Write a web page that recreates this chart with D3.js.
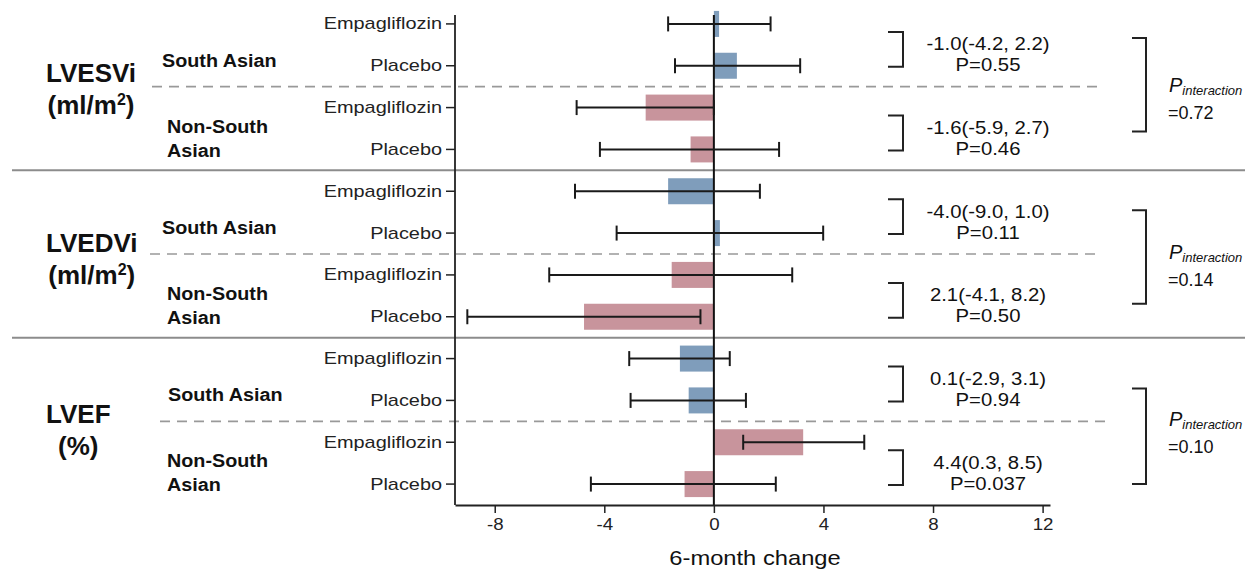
<!DOCTYPE html>
<html>
<head>
<meta charset="utf-8">
<script src="https://cdn.jsdelivr.net/npm/d3@7"></script>
<style>
  body { margin: 0; background: #fff; }
  svg { font-family: "Liberation Sans", Arial, sans-serif; display: block; }
</style>
</head>
<body>
<div id="chart"></div>
<script>
// rows go measure > group > arm, top to bottom
const measures = ["LVESVi", "LVEDVi", "LVEF"];
const units = ["(ml/m", "(ml/m", "(%)"];
const groups = ["South Asian", "Non-South Asian"];
const arms = ["Empagliflozin", "Placebo"];

const change = [0.19, 0.84, -2.49, -0.85, -1.67, 0.22, -1.54, -4.74, -1.24, -0.92, 3.26, -1.07];
const ciLow  = [-1.67, -1.42, -5.01, -4.16, -5.07, -3.55, -6.01, -9.0, -3.09, -3.04, 1.07, -4.49];
const ciHigh = [2.07, 3.15, 0.0, 2.38, 1.68, 3.99, 2.86, -0.49, 0.58, 1.17, 5.49, 2.26];

const effects = ["-1.0(-4.2, 2.2)", "-1.6(-5.9, 2.7)", "-4.0(-9.0, 1.0)", "2.1(-4.1, 8.2)", "0.1(-2.9, 3.1)", "4.4(0.3, 8.5)"];
const pValues = ["P=0.55", "P=0.46", "P=0.11", "P=0.50", "P=0.94", "P=0.037"];
const pInteraction = ["=0.72", "=0.14", "=0.10"];
const xTicks = [-8, -4, 0, 4, 8, 12];

const W = 1245, H = 569;
const blue = "#7f9dbb", pink = "#c8949c";

const svg = d3.select("#chart").append("svg")
    .attr("width", W)
    .attr("height", H);

const rows = d3.range(change.length);
const x = d3.scaleLinear().domain([-9.45, 12.27]).range([455, 1050]);
const y = d3.scaleBand().domain(rows).range([3, 505]);
const cy = r => y(r) + y.bandwidth() / 2;

// text helper: the source figure uses slightly wide type
function label(g, tx, ty, str, size, opts = {}) {
    return g.append("text")
        .attr("transform", `translate(${tx},${ty}) scale(${opts.sx || 1},1)`)
        .attr("text-anchor", opts.anchor || "start")
        .attr("font-size", size)
        .attr("font-weight", opts.weight || "normal")
        .attr("font-style", opts.style || "normal")
        .attr("fill", "#111")
        .text(str);
}

// separators
const sep = svg.append("g");
[4, 8].forEach(b => {
    sep.append("line")
        .attr("x1", 12).attr("x2", W)
        .attr("y1", y(b)).attr("y2", y(b))
        .attr("stroke", "#8c8c8c").attr("stroke-width", 2);
});
const dashX = [[152, 1097], [150, 1097], [160, 1107]];
[2, 6, 10].forEach((b, i) => {
    sep.append("line")
        .attr("x1", dashX[i][0]).attr("x2", dashX[i][1])
        .attr("y1", y(b)).attr("y2", y(b))
        .attr("stroke", "#999").attr("stroke-width", 1.6)
        .attr("stroke-dasharray", "10,7");
});

// bars
svg.append("g").selectAll("rect")
    .data(rows)
    .join("rect")
    .attr("x", r => x(Math.min(0, change[r])))
    .attr("width", r => Math.abs(x(change[r]) - x(0)))
    .attr("y", r => cy(r) - 13)
    .attr("height", 26)
    .attr("fill", r => Math.floor(r / 2) % 2 === 0 ? blue : pink);

// zero line
svg.append("line")
    .attr("x1", x(0)).attr("x2", x(0))
    .attr("y1", 15).attr("y2", 505)
    .attr("stroke", "#111").attr("stroke-width", 2);

// error bars
const eb = svg.append("g").attr("stroke", "#1a1a1a").attr("stroke-width", 2);
rows.forEach(r => {
    eb.append("line").attr("x1", x(ciLow[r])).attr("x2", x(ciHigh[r]))
        .attr("y1", cy(r)).attr("y2", cy(r));
    [ciLow[r], ciHigh[r]].forEach(v => {
        eb.append("line").attr("x1", x(v)).attr("x2", x(v))
            .attr("y1", cy(r) - 7.5).attr("y2", cy(r) + 7.5);
    });
});

// y axis
const yAxis = d3.axisLeft(y)
    .tickFormat(r => arms[r % 2])
    .tickSize(9)
    .tickPadding(2);
const gy = svg.append("g").attr("transform", `translate(${x.range()[0]},0)`).call(yAxis);
gy.select(".domain").remove();
gy.selectAll(".tick line").attr("stroke", "#222").attr("stroke-width", 1.5);
gy.selectAll(".tick text")
    .attr("font-size", 17)
    .attr("fill", "#222")
    .attr("transform", "scale(1.17,1)")
    .attr("x", -13 / 1.17);
gy.append("line").attr("y1", 15).attr("y2", 505).attr("stroke", "#222").attr("stroke-width", 1.8);

// x axis
const xAxis = d3.axisBottom(x)
    .tickValues(xTicks)
    .tickFormat(d => String(d))
    .tickSize(8)
    .tickSizeOuter(0)
    .tickPadding(5);
const gx = svg.append("g").attr("transform", "translate(0,505)").call(xAxis);
gx.select(".domain").attr("stroke", "#222").attr("stroke-width", 1.8);
gx.selectAll(".tick line").attr("stroke", "#222").attr("stroke-width", 1.5);
gx.selectAll(".tick text")
    .attr("font-size", 17)
    .attr("fill", "#222")
    .attr("transform", "scale(1.1,1)")
    .attr("x", 0);
label(svg, 755, 565, "6-month change", 21, {anchor: "middle", sx: 1.13});

// measure and subgroup labels
const measureDy = [-5, -2, 2];
const left = svg.append("g");
measures.forEach((m, i) => {
    const mid = (y(i * 4) + y(i * 4 + 3) + y.bandwidth()) / 2;
    const t1 = label(left, 46, mid + measureDy[i], m, 26, {weight: "bold"});
    const w = t1.node().getComputedTextLength();
    t1.attr("transform", `translate(${46 + w / 2},${mid + measureDy[i]})`).attr("text-anchor", "middle");
    const t2 = label(left, 46 + w / 2, mid + measureDy[i] + 32, units[i], 26, {weight: "bold", anchor: "middle"});
    if (units[i] !== "(%)") {
        t2.append("tspan").attr("font-size", 16).attr("dy", -9).text("2");
        t2.append("tspan").attr("dy", 9).text(")");
    }

    const c = k => cy(i * 4 + k);
    label(left, i === 2 ? 168 : 162, c(1) + 1, groups[0], 17.5, {weight: "bold", sx: 1.13});
    const words = groups[1].split(" ");
    label(left, 167, c(2) + 25, words[0], 17.5, {weight: "bold", sx: 1.13});
    label(left, 167, c(2) + 49, words[1], 17.5, {weight: "bold", sx: 1.13});
});

// effect estimates with small brackets
const ann = svg.append("g");
effects.forEach((e, k) => {
    const top = cy(k * 2) + 8, bot = cy(k * 2 + 1) + 1;
    ann.append("path")
        .attr("d", `M888,${top}H903V${bot}H888`)
        .attr("fill", "none").attr("stroke", "#222").attr("stroke-width", 2);
    const mid = (top + bot) / 2 + 5;
    label(ann, 988, mid - 4, e, 17.5, {anchor: "middle", sx: 1.16});
    label(ann, 988, mid + 17, pValues[k], 17.5, {anchor: "middle", sx: 1.16});
});

// interaction p values with large brackets
const bigPad = [[14, 18], [19, 13], [30, 0]];
pInteraction.forEach((p, i) => {
    const top = cy(i * 4) + bigPad[i][0], bot = cy(i * 4 + 3) - bigPad[i][1];
    ann.append("path")
        .attr("d", `M1132,${top}H1146V${bot}H1132`)
        .attr("fill", "none").attr("stroke", "#222").attr("stroke-width", 2);
    const by = cy(i * 4 + 1) + 26;
    const t = label(ann, 1169, by, "P", 20, {style: "italic"});
    t.append("tspan").attr("font-size", 13).attr("dy", 3).text("interaction");
    label(ann, 1168, by + 27, p, 18);
});
</script>
</body>
</html>
